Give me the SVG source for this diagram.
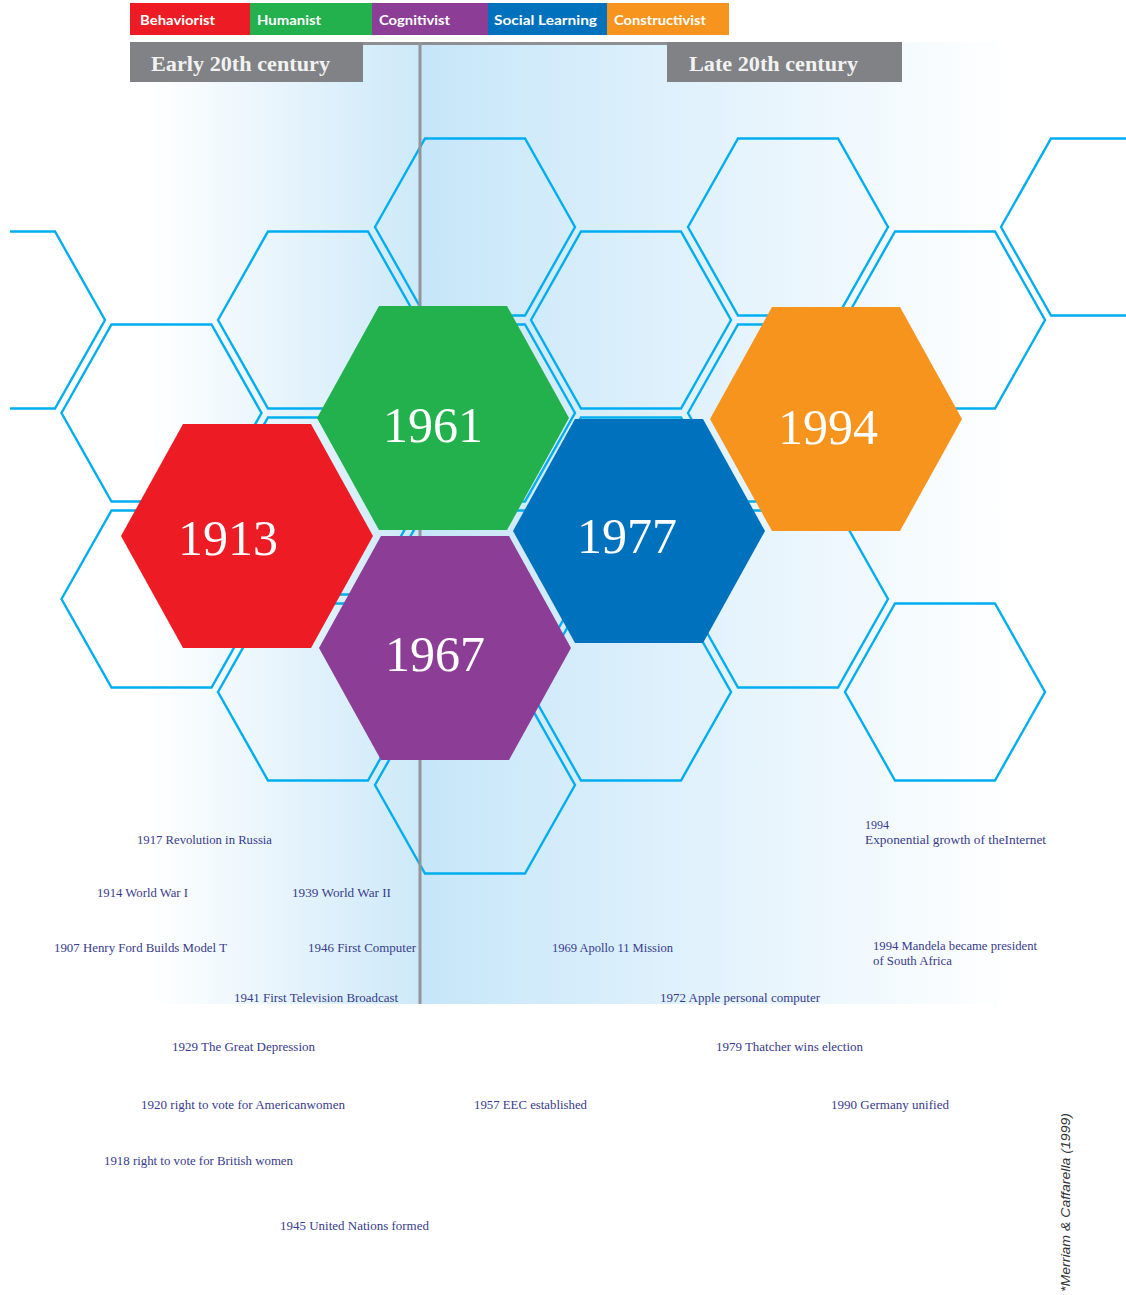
<svg xmlns="http://www.w3.org/2000/svg" xmlns:xlink="http://www.w3.org/1999/xlink" width="1126" height="1295" viewBox="0 0 1126 1295">
  <defs>
    <linearGradient id="gLeft" x1="130" y1="0" x2="420" y2="0" gradientUnits="userSpaceOnUse">
      <stop offset="0.07" stop-color="#ffffff"/>
      <stop offset="1" stop-color="#cde9f9"/>
    </linearGradient>
    <linearGradient id="gRight" x1="420" y1="0" x2="1012" y2="0" gradientUnits="userSpaceOnUse">
      <stop offset="0" stop-color="#c6e6f9"/>
      <stop offset="1" stop-color="#ffffff"/>
    </linearGradient>
    <clipPath id="clipArea">
      <rect x="10" y="0" width="1116" height="1295"/>
    </clipPath>
    <polygon id="hexS" points="-100,0 -50,-88.5 50,-88.5 100,0 50,88.5 -50,88.5"/>
    <polygon id="hexL" points="-126,0 -64,-112 64,-112 126,0 64,112 -64,112"/>
    <style>
      .outline { fill: none; stroke: #00aeef; stroke-width: 2.4; }
      .legend-text { font-family: Lato, "Liberation Sans", sans-serif; font-weight: 700; font-size: 14px; fill: #ffffff; }
      .header-text { font-family: "Liberation Serif", serif; font-weight: 700; font-size: 22px; fill: #f2f2f2; }
      .year { font-family: "Liberation Serif", serif; font-size: 50px; fill: #ffffff; text-anchor: middle; }
      .note { font-family: "Liberation Serif", serif; font-size: 12px; fill: #383b8c; }
      .credit { font-family: "Liberation Sans", sans-serif; font-style: italic; font-size: 12.5px; fill: #333333; }
    </style>
  </defs>

  <rect x="0" y="0" width="1126" height="1295" fill="#ffffff"/>

  <!-- background gradient panels -->
  <g id="background">
    <rect x="130" y="42" width="290" height="962" fill="url(#gLeft)"/>
    <rect x="420" y="42" width="592" height="962" fill="url(#gRight)"/>
  </g>

  <!-- legend -->
  <g id="legend">
    <g id="legend-behaviorist">
      <rect x="130" y="3" width="120" height="32" fill="#ed1c24"/>
      <text class="legend-text" x="140" y="25" textLength="75" lengthAdjust="spacingAndGlyphs">Behaviorist</text>
    </g>
    <g id="legend-humanist">
      <rect x="250" y="3" width="122" height="32" fill="#22b14c"/>
      <text class="legend-text" x="257" y="25" textLength="64" lengthAdjust="spacingAndGlyphs">Humanist</text>
    </g>
    <g id="legend-cognitivist">
      <rect x="372" y="3" width="116" height="32" fill="#8c3e96"/>
      <text class="legend-text" x="379" y="25" textLength="71" lengthAdjust="spacingAndGlyphs">Cognitivist</text>
    </g>
    <g id="legend-social">
      <rect x="488" y="3" width="119" height="32" fill="#0071bc"/>
      <text class="legend-text" x="494" y="25" textLength="103" lengthAdjust="spacingAndGlyphs">Social Learning</text>
    </g>
    <g id="legend-constructivist">
      <rect x="607" y="3" width="122" height="32" fill="#f7941e"/>
      <text class="legend-text" x="614" y="25" textLength="92" lengthAdjust="spacingAndGlyphs">Constructivist</text>
    </g>
  </g>

  <!-- headers -->
  <g id="headers">
    <rect x="130" y="42" width="772" height="3" fill="#8d8f92"/>
    <g id="header-early">
      <rect x="130" y="42" width="233" height="40" fill="#808285"/>
      <text class="header-text" x="151" y="71" textLength="179" lengthAdjust="spacingAndGlyphs">Early 20th century</text>
    </g>
    <g id="header-late">
      <rect x="667" y="42" width="235" height="40" fill="#808285"/>
      <text class="header-text" x="689" y="71" textLength="169" lengthAdjust="spacingAndGlyphs">Late 20th century</text>
    </g>
  </g>

  <!-- outline honeycomb -->
  <g id="honeycomb" clip-path="url(#clipArea)">
    <use href="#hexS" class="outline" x="5" y="320"/>
    <use href="#hexS" class="outline" x="161.5" y="413"/>
    <use href="#hexS" class="outline" x="161.5" y="599"/>
    <use href="#hexS" class="outline" x="318" y="320"/>
    <use href="#hexS" class="outline" x="318" y="506"/>
    <use href="#hexS" class="outline" x="318" y="692"/>
    <use href="#hexS" class="outline" x="475" y="227"/>
    <use href="#hexS" class="outline" x="475" y="413"/>
    <use href="#hexS" class="outline" x="475" y="599"/>
    <use href="#hexS" class="outline" x="475" y="785"/>
    <use href="#hexS" class="outline" x="631" y="320"/>
    <use href="#hexS" class="outline" x="631" y="506"/>
    <use href="#hexS" class="outline" x="631" y="692"/>
    <use href="#hexS" class="outline" x="788" y="227"/>
    <use href="#hexS" class="outline" x="788" y="413"/>
    <use href="#hexS" class="outline" x="788" y="599"/>
    <use href="#hexS" class="outline" x="945" y="320"/>
    <use href="#hexS" class="outline" x="945" y="692"/>
    <use href="#hexS" class="outline" x="1101" y="227"/>
  </g>

  <!-- divider line -->
  <g id="connectors">
    <line x1="420" y1="42" x2="420" y2="1004" stroke="#939598" stroke-width="3"/>
  </g>

  <!-- colored nodes -->
  <g id="node-1913">
    <use href="#hexL" x="247" y="536" fill="#ed1c24"/>
    <text class="year" x="228" y="555">1913</text>
  </g>
  <g id="node-1961">
    <use href="#hexL" x="443" y="418" fill="#22b14c"/>
    <text class="year" x="433" y="442">1961</text>
  </g>
  <g id="node-1967">
    <use href="#hexL" x="445" y="648" fill="#8c3e96"/>
    <text class="year" x="435" y="671">1967</text>
  </g>
  <g id="node-1977">
    <use href="#hexL" x="639" y="531" fill="#0071bc"/>
    <text class="year" x="627" y="553">1977</text>
  </g>
  <g id="node-1994">
    <use href="#hexL" x="836" y="419" fill="#f7941e"/>
    <text class="year" x="828" y="444">1994</text>
  </g>

  <!-- event notes -->
  <g id="events">
    <text class="note" x="137" y="844" textLength="135" lengthAdjust="spacingAndGlyphs">1917 Revolution in Russia</text>
    <text class="note" x="97" y="897" textLength="91" lengthAdjust="spacingAndGlyphs">1914 World War I</text>
    <text class="note" x="292" y="897" textLength="99" lengthAdjust="spacingAndGlyphs">1939 World War II</text>
    <text class="note" x="54" y="952" textLength="173" lengthAdjust="spacingAndGlyphs">1907 Henry Ford Builds Model T</text>
    <text class="note" x="308" y="952" textLength="108" lengthAdjust="spacingAndGlyphs">1946 First Computer</text>
    <text class="note" x="234" y="1002" textLength="164" lengthAdjust="spacingAndGlyphs">1941 First Television Broadcast</text>
    <text class="note" x="172" y="1051" textLength="143" lengthAdjust="spacingAndGlyphs">1929 The Great Depression</text>
    <text class="note" x="141" y="1109" textLength="204" lengthAdjust="spacingAndGlyphs">1920 right to vote for Americanwomen</text>
    <text class="note" x="104" y="1165" textLength="189" lengthAdjust="spacingAndGlyphs">1918 right to vote for British women</text>
    <text class="note" x="280" y="1230" textLength="149" lengthAdjust="spacingAndGlyphs">1945 United Nations formed</text>
    <text class="note" x="474" y="1109" textLength="113" lengthAdjust="spacingAndGlyphs">1957 EEC established</text>
    <text class="note" x="552" y="952" textLength="121" lengthAdjust="spacingAndGlyphs">1969 Apollo 11 Mission</text>
    <text class="note" x="660" y="1002" textLength="160" lengthAdjust="spacingAndGlyphs">1972 Apple personal computer</text>
    <text class="note" x="716" y="1051" textLength="147" lengthAdjust="spacingAndGlyphs">1979 Thatcher wins election</text>
    <text class="note" x="831" y="1109" textLength="118" lengthAdjust="spacingAndGlyphs">1990 Germany unified</text>
    <text class="note" x="865" y="829">1994</text>
    <text class="note" x="865" y="844" textLength="181" lengthAdjust="spacingAndGlyphs">Exponential growth of theInternet</text>
    <text class="note" x="873" y="950" textLength="164" lengthAdjust="spacingAndGlyphs">1994 Mandela became president</text>
    <text class="note" x="873" y="965" textLength="79" lengthAdjust="spacingAndGlyphs">of South Africa</text>
  </g>

  <text class="credit" transform="translate(1070,1292) rotate(-90)" x="0" y="0" textLength="179" lengthAdjust="spacingAndGlyphs">*Merriam &amp; Caffarella (1999)</text>
</svg>
